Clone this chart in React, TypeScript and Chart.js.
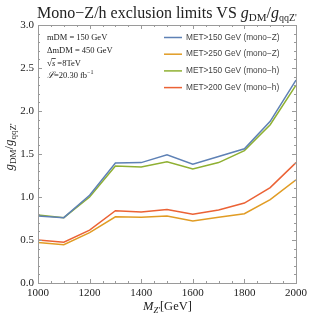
import React, { useEffect, useRef } from "react";
import { Chart, registerables } from "chart.js";

Chart.register(...registerables);

const masses = [1000, 1100, 1200, 1300, 1400, 1500, 1600, 1700, 1800, 1900, 2000];
const monoZ150 = [0.78, 0.76, 1.02, 1.395, 1.40, 1.49, 1.38, 1.47, 1.56, 1.88, 2.36];
const monoZ250 = [0.47, 0.445, 0.585, 0.77, 0.765, 0.78, 0.72, 0.765, 0.805, 0.97, 1.2];
const monoH150 = [0.79, 0.76, 1.0, 1.36, 1.35, 1.41, 1.325, 1.40, 1.54, 1.84, 2.3];
const monoH200 = [0.5, 0.475, 0.615, 0.84, 0.825, 0.855, 0.8, 0.85, 0.93, 1.11, 1.4];
const seriesLabels = [
  "MET>150 GeV (mono\u2212Z)",
  "MET>250 GeV (mono\u2212Z)",
  "MET>150 GeV (mono\u2212h)",
  "MET>200 GeV (mono\u2212h)",
];
const seriesColors = ["#5E81B5", "#E19C24", "#8FB032", "#EB6235"];
const xMajorTicks = [1000, 1200, 1400, 1600, 1800, 2000];
const xMinorStep = 50;
const yMajorTicks = [0, 0.5, 1.0, 1.5, 2.0, 2.5, 3.0];
const yMinorStep = 0.1;
const annotationLines = ["mDM = 150 GeV", "\u0394mDM = 450 GeV", "s =8TeV", "20.30 fb"];

const SERIF = "'Liberation Serif', 'DejaVu Serif', serif";
const SANS = "'Liberation Sans', Arial, sans-serif";

type Part = { t: string; size: number; italic?: boolean; dy?: number; font?: string };

function measureParts(ctx: CanvasRenderingContext2D, parts: Part[]) {
  let w = 0;
  for (const p of parts) {
    ctx.font = `${p.italic ? "italic " : ""}${p.size}px ${p.font || SERIF}`;
    w += ctx.measureText(p.t).width;
  }
  return w;
}

function drawParts(ctx: CanvasRenderingContext2D, parts: Part[], x: number, y: number) {
  let cx = x;
  ctx.textBaseline = "alphabetic";
  ctx.textAlign = "left";
  for (const p of parts) {
    ctx.font = `${p.italic ? "italic " : ""}${p.size}px ${p.font || SERIF}`;
    ctx.fillText(p.t, cx, y + (p.dy || 0));
    cx += ctx.measureText(p.t).width;
  }
  return cx;
}

const decorPlugin = {
  id: "decor",
  afterDraw(chart: any) {
    const ctx: CanvasRenderingContext2D = chart.ctx;
    const { left, right, top, bottom } = chart.chartArea;
    const xs = chart.scales.x;
    const ys = chart.scales.y;
    ctx.save();
    // frame
    ctx.strokeStyle = "#9a9a9a";
    ctx.lineWidth = 1;
    ctx.strokeRect(Math.round(left) + 0.5, Math.round(top) + 0.5, Math.round(right - left), Math.round(bottom - top));
    // ticks
    ctx.beginPath();
    const xMin = xs.min, xMax = xs.max;
    for (let v = xMin; v <= xMax + 1e-6; v += xMinorStep) {
      const major = xMajorTicks.includes(v);
      const len = major ? 4 : 2;
      const px = Math.round(xs.getPixelForValue(v)) + 0.5;
      ctx.moveTo(px, bottom);
      ctx.lineTo(px, bottom - len);
      ctx.moveTo(px, top);
      ctx.lineTo(px, top + len);
    }
    const yMin = ys.min, yMax = ys.max;
    const nY = Math.round((yMax - yMin) / yMinorStep);
    for (let i = 0; i <= nY; i++) {
      const v = yMin + i * yMinorStep;
      const major = i % 5 === 0;
      const len = major ? 4 : 2;
      const py = Math.round(ys.getPixelForValue(v)) + 0.5;
      ctx.moveTo(left, py);
      ctx.lineTo(left + len, py);
      ctx.moveTo(right, py);
      ctx.lineTo(right - len, py);
    }
    ctx.stroke();

    ctx.fillStyle = "#222";
    // title
    const title: Part[] = [
      { t: "Mono\u2212Z/h exclusion limits VS ", size: 16 },
      { t: "g", size: 16, italic: true },
      { t: "DM", size: 11, dy: 3 },
      { t: "/", size: 16 },
      { t: "g", size: 16, italic: true },
      { t: "qqZ'", size: 10, dy: 3 },
    ];
    const tw = measureParts(ctx, title);
    drawParts(ctx, title, (left + right) / 2 - tw / 2, 18);

    // x title
    const xt: Part[] = [
      { t: "M", size: 12.5, italic: true },
      { t: "Z'", size: 8.5, italic: true, dy: 3 },
      { t: "[GeV]", size: 12.5 },
    ];
    const xw = measureParts(ctx, xt);
    drawParts(ctx, xt, 143, 310);

    // y title
    const yt: Part[] = [
      { t: "g", size: 13, italic: true },
      { t: "DM", size: 9, dy: 3 },
      { t: "/", size: 13 },
      { t: "g", size: 13, italic: true },
      { t: "qqZ'", size: 9, dy: 3 },
    ];
    const yw = measureParts(ctx, yt);
    ctx.save();
    ctx.translate(13, 147);
    ctx.rotate(-Math.PI / 2);
    drawParts(ctx, yt, -yw / 2, 0);
    ctx.restore();

    // annotation
    const ax = left + 9;
    drawParts(ctx, [{ t: annotationLines[0], size: 8.5 }], ax, top + 15);
    drawParts(ctx, [{ t: annotationLines[1], size: 8.5 }], ax, top + 28);
    // sqrt s
    const sx0 = drawParts(ctx, [{ t: "\u221A", size: 9 }], ax, top + 41);
    const sx1 = drawParts(ctx, [{ t: "s", size: 8.5, italic: true }], sx0, top + 41);
    ctx.strokeStyle = "#222";
    ctx.lineWidth = 0.8;
    ctx.beginPath();
    ctx.moveTo(sx0 - 0.5, top + 33.5);
    ctx.lineTo(sx1 + 0.5, top + 33.5);
    ctx.stroke();
    drawParts(ctx, [{ t: " " + annotationLines[2].slice(2), size: 8.5 }], sx1, top + 41);
    const lx = drawParts(ctx, [{ t: "\u2112", size: 9, italic: true }, { t: "=" + annotationLines[3], size: 8.5 }], ax, top + 53);
    drawParts(ctx, [{ t: "\u22121", size: 6, dy: -4 }], lx, top + 53);

    // legend
    for (let i = 0; i < seriesLabels.length; i++) {
      const ly = top + 12.5 + i * 16.7;
      ctx.strokeStyle = seriesColors[i];
      ctx.lineWidth = 1.5;
      ctx.beginPath();
      ctx.moveTo(164, ly);
      ctx.lineTo(182, ly);
      ctx.stroke();
      ctx.fillStyle = "#444";
      ctx.font = `8.3px ${SANS}`;
      ctx.textBaseline = "middle";
      ctx.textAlign = "left";
      ctx.fillText(seriesLabels[i], 186, ly);
    }
    ctx.restore();
  },
};

export default function App() {
  const ref = useRef<HTMLCanvasElement>(null);
  useEffect(() => {
    const allSeries = [monoZ150, monoZ250, monoH150, monoH200];
    const chart = new Chart(ref.current!, {
      type: "line",
      data: {
        datasets: allSeries.map((s, i) => ({
          label: seriesLabels[i],
          data: masses.map((m, j) => ({ x: m, y: s[j] })),
          borderColor: seriesColors[i],
          backgroundColor: seriesColors[i],
          borderWidth: 1.5,
          pointRadius: 0,
          tension: 0,
          fill: false,
        })),
      },
      options: {
        animation: false,
        responsive: false,
        maintainAspectRatio: false,
        layout: { padding: { top: 25, right: 10, left: 0, bottom: 0 } },
        plugins: { legend: { display: false }, tooltip: { enabled: false }, title: { display: false } },
        scales: {
          x: {
            type: "linear",
            min: 1000,
            max: 2000,
            afterBuildTicks: (scale: any) => {
              scale.ticks = xMajorTicks.map((v) => ({ value: v }));
            },
            afterFit: (scale: any) => {
              scale.height = 35;
            },
            grid: { display: false, drawTicks: false, tickLength: 0 },
            border: { display: false },
            ticks: {
              color: "#222",
              font: { family: SERIF, size: 11 },
              padding: 4,
              maxRotation: 0,
              callback: (v: any) => String(v),
            },
          },
          y: {
            type: "linear",
            min: 0,
            max: 3,
            afterBuildTicks: (scale: any) => {
              scale.ticks = yMajorTicks.map((v) => ({ value: v }));
            },
            afterFit: (scale: any) => {
              scale.width = 38;
            },
            grid: { display: false, drawTicks: false, tickLength: 0 },
            border: { display: false },
            ticks: {
              color: "#222",
              font: { family: SERIF, size: 11 },
              padding: 4,
              callback: (v: any) => Number(v).toFixed(1),
            },
          },
        },
      },
      plugins: [decorPlugin],
    });
    return () => chart.destroy();
  }, []);
  return (
    <div style={{ position: "absolute", left: 0, top: 0, width: 311, height: 318, background: "#fff" }}>
      <canvas ref={ref} width={311} height={318} style={{ width: 311, height: 318 }} />
    </div>
  );
}
